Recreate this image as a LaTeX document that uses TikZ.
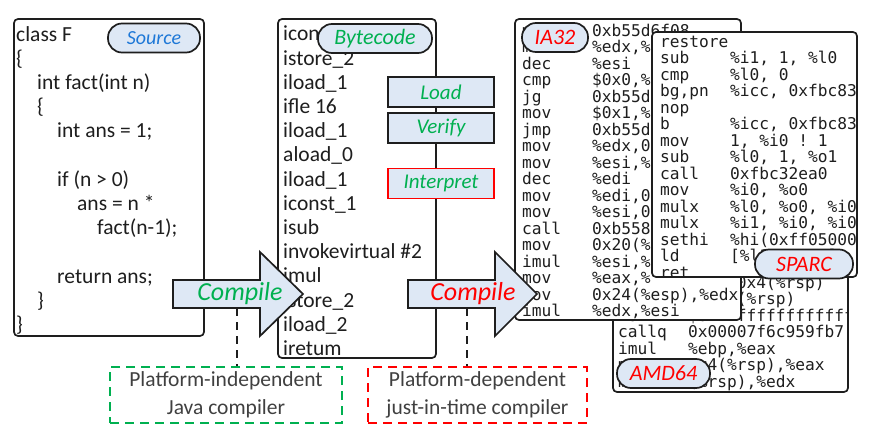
\documentclass[tikz,border=0pt]{standalone}
\usepackage{fontspec}
\setmainfont{Carlito}
\setmonofont{DejaVu Sans Mono}
\usetikzlibrary{positioning}
\definecolor{paleblue}{RGB}{222,232,245}
\definecolor{srcblue}{RGB}{30,120,215}
\definecolor{jgreen}{RGB}{0,176,80}
\definecolor{jred}{RGB}{255,0,0}
\definecolor{ink}{RGB}{30,30,30}
% one assembly line: mnemonic, then operands in a second column
\newcommand{\ins}[2]{\makebox[70pt][l]{#1}#2}

\begin{document}
\begin{tikzpicture}[x=1pt,y=-1pt,
  box/.style = {draw=ink, line width=1.7pt, rounded corners=4pt, fill=white, inner sep=0pt},
  tag/.style = {draw=ink, line width=1.7pt, rounded corners=14pt, fill=paleblue, minimum height=29pt, inner sep=0pt, font=\fontsize{22}{24}\selectfont\itshape},
  stage/.style = {draw=ink, line width=1.7pt, fill=paleblue, minimum width=106pt, minimum height=30pt, inner sep=0pt, text=jgreen, font=\fontsize{21}{24}\selectfont\itshape},
  code/.style = {anchor=north west, inner sep=0pt, align=left, text=ink, font=\fontsize{21.5}{24.2}\selectfont},
  asm/.style = {anchor=north west, inner sep=0pt, align=left, text=ink, font=\ttfamily\fontsize{16.2}{16.5}\selectfont},
  bigarrow/.style = {draw=ink, line width=1.7pt, fill=paleblue, line join=miter},
  note/.style = {line width=1.6pt, dash pattern=on 9pt off 6pt, minimum height=56pt, inner sep=0pt, align=center, text=ink!85, font=\fontsize{21.5}{28}\selectfont},
  link/.style = {draw=ink, line width=1.6pt, dash pattern=on 8pt off 6pt}]
\useasboundingbox (0,0) rectangle (876,444);

% source code
\node[box, minimum width=190pt, minimum height=317pt] (src) at (109,177.5) {};
\node[code] (srctext) at (16,26) {class F\\
{\{}\\
\hspace*{21pt}int fact(int n)\\
\hspace*{21pt}\{\\
\hspace*{41pt}int ans = 1;\\
\mbox{}\\
\hspace*{41pt}if (n > 0)\\
\hspace*{61pt}ans = n *\\
\hspace*{81pt}fact(n-1);\\
\mbox{}\\
\hspace*{41pt}return ans;\\
\hspace*{21pt}\}\\
\}};
\node[tag, text=srcblue, minimum width=92pt, font=\fontsize{20}{24}\selectfont\itshape] (srctag) at (154,38) {Source};

% bytecode
\node[box, minimum width=158pt, minimum height=339pt] (bc) at (357,188.5) {};
\node[code] (bctext) at (283,26) {iconst\_1\\ istore\_2\\ iload\_1\\ ifle 16\\ iload\_1\\ aload\_0\\ iload\_1\\ iconst\_1\\ isub\\ invokevirtual \#2\\ imul\\ istore\_2\\ iload\_2\\ iretum};
\node[tag, text=jgreen, minimum width=114pt] (bctag) at (375,38.5) {Bytecode};
\node[stage] (load) at (441,92) {Load};
\node[stage] (verify) at (441,128) {Verify};
\node[stage, draw=jred] (interp) at (441,183.5) {Interpret};

% AMD64
\node[box, minimum width=235pt, minimum height=147pt] (amd) at (730.5,318.5) {};
\begin{scope}
  \clip (613,245) rectangle (848,392);
  \node[asm] (amdtext) at (618,276) {\ins{mov}{\%eax,0x4(\%rsp)}\\
  \ins{mov}{\%ebx,(\%rsp)}\\
  \ins{mov}{\$0xffffffffffffffff,\%rax}\\
  \ins{callq}{0x00007f6c959fb7}\\
  \ins{imul}{\%ebp,\%eax}\\
  \ins{mov}{0x4(\%rsp),\%eax}\\
  \ins{mov}{(\%rsp),\%edx}};
\end{scope}
\node[tag, text=jred, minimum width=93pt] (amdtag) at (663.5,373.5) {AMD64};

% IA32
\node[box, minimum width=226pt, minimum height=301pt] (ia) at (628,169.5) {};
\node[asm] (iatext) at (522,23.5) {\ins{mov}{0xb55d6f08}\\
\ins{mov}{\%edx,\%ecx}\\
\ins{dec}{\%esi}\\
\ins{cmp}{\$0x0,\%esi}\\
\ins{jg}{0xb55d6f20}\\
\ins{mov}{\$0x1,\%eax}\\
\ins{jmp}{0xb55d6f40}\\
\ins{mov}{\%edx,0x8(\%esp)}\\
\ins{mov}{\%esi,\%edi}\\
\ins{dec}{\%edi}\\
\ins{mov}{\%edi,0x4(\%esp)}\\
\ins{mov}{\%esi,0x8(\%esp)}\\
\ins{call}{0xb5585a60}\\
\ins{mov}{0x20(\%esp),\%esi}\\
\ins{imul}{\%esi,\%eax}\\
\ins{mov}{\%eax,\%}\\
\ins{mov}{0x24(\%esp),\%edx}\\
\ins{imul}{\%edx,\%esi}};
\node[tag, text=jred, minimum width=66pt] (iatag) at (555,37.5) {IA32};

% SPARC
\node[box, minimum width=205pt, minimum height=245pt] (sparc) at (754.5,154.5) {};
\begin{scope}
  \clip (652,32) rectangle (857,277);
  \node[asm] (sparctext) at (660,35.5) {restore\\
  \ins{sub}{\%i1, 1, \%l0}\\
  \ins{cmp}{\%l0, 0}\\
  \ins{bg,pn}{\%icc, 0xfbc83a58}\\
  nop\\
  \ins{b}{\%icc, 0xfbc83a78}\\
  \ins{mov}{1, \%i0 ! 1}\\
  \ins{sub}{\%l0, 1, \%o1}\\
  \ins{call}{0xfbc32ea0}\\
  \ins{mov}{\%i0, \%o0}\\
  \ins{mulx}{\%l0, \%o0, \%i0}\\
  \ins{mulx}{\%i1, \%i0, \%i0}\\
  \ins{sethi}{\%hi(0xff050000), \%l1}\\
  \ins{ld}{[\%l1+0x3c0], \%o0}\\
  ret};
\end{scope}
\node[tag, text=jred, minimum width=98pt] (sparctag) at (804,264) {SPARC};

% compile arrows
\draw[bigarrow] (173,280) -- (260,280) -- (260,252) -- (303,294) -- (260,336) -- (260,308) -- (173,308) -- cycle;
\node[text=jgreen, font=\fontsize{26}{28}\selectfont\itshape] (javac) at (240,294) {Compile};
\draw[bigarrow] (408,280) -- (495,280) -- (495,252) -- (537,294) -- (495,336) -- (495,308) -- (408,308) -- cycle;
\node[text=jred, font=\fontsize{26}{28}\selectfont\itshape] (jit) at (473,294) {Compile};
\coordinate (javacfoot) at (237,308);
\coordinate (jitfoot) at (467,308);

% compiler notes
\node[note, draw=jgreen, minimum width=232pt] (jnote) at (226,395) {Platform-independent\\Java compiler};
\node[note, draw=jred, minimum width=219pt] (jitnote) at (477.5,395) {Platform-dependent\\just-in-time compiler};
\draw[link] (javacfoot) -- (javacfoot |- jnote.north);
\draw[link] (jitfoot) -- (jitfoot |- jitnote.north);
\end{tikzpicture}
\end{document}
